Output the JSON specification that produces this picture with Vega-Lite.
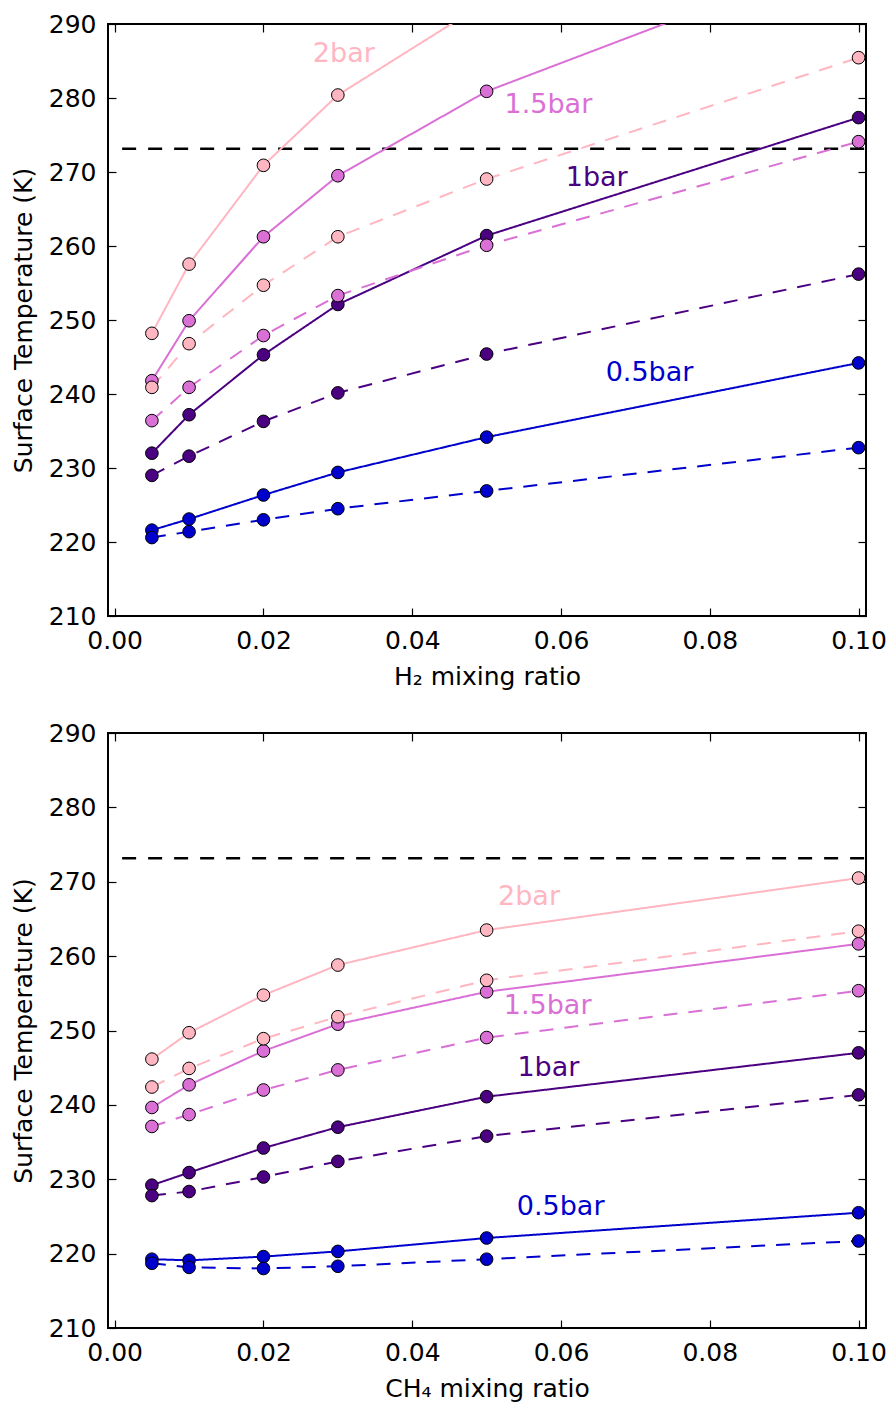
{
  "$schema": "https://vega.github.io/schema/vega-lite/v6.json",
  "padding": {"left": 10, "top": 11, "right": 5, "bottom": 5},
  "background": "white",
  "datasets": {
    "h2": [
      {"x": 0.005, "T": 221.6, "p": "0.5bar", "s": "solid"},
      {"x": 0.01, "T": 223.1, "p": "0.5bar", "s": "solid"},
      {"x": 0.02, "T": 226.35, "p": "0.5bar", "s": "solid"},
      {"x": 0.03, "T": 229.4, "p": "0.5bar", "s": "solid"},
      {"x": 0.05, "T": 234.17, "p": "0.5bar", "s": "solid"},
      {"x": 0.1, "T": 244.2, "p": "0.5bar", "s": "solid"},
      {"x": 0.005, "T": 220.6, "p": "0.5bar", "s": "dashed"},
      {"x": 0.01, "T": 221.4, "p": "0.5bar", "s": "dashed"},
      {"x": 0.02, "T": 223.0, "p": "0.5bar", "s": "dashed"},
      {"x": 0.03, "T": 224.5, "p": "0.5bar", "s": "dashed"},
      {"x": 0.05, "T": 226.9, "p": "0.5bar", "s": "dashed"},
      {"x": 0.1, "T": 232.75, "p": "0.5bar", "s": "dashed"},
      {"x": 0.005, "T": 232.0, "p": "1bar", "s": "solid"},
      {"x": 0.01, "T": 237.2, "p": "1bar", "s": "solid"},
      {"x": 0.02, "T": 245.3, "p": "1bar", "s": "solid"},
      {"x": 0.03, "T": 252.1, "p": "1bar", "s": "solid"},
      {"x": 0.05, "T": 261.4, "p": "1bar", "s": "solid"},
      {"x": 0.1, "T": 277.35, "p": "1bar", "s": "solid"},
      {"x": 0.005, "T": 229.0, "p": "1bar", "s": "dashed"},
      {"x": 0.01, "T": 231.6, "p": "1bar", "s": "dashed"},
      {"x": 0.02, "T": 236.3, "p": "1bar", "s": "dashed"},
      {"x": 0.03, "T": 240.15, "p": "1bar", "s": "dashed"},
      {"x": 0.05, "T": 245.4, "p": "1bar", "s": "dashed"},
      {"x": 0.1, "T": 256.2, "p": "1bar", "s": "dashed"},
      {"x": 0.005, "T": 241.8, "p": "1.5bar", "s": "solid"},
      {"x": 0.01, "T": 249.9, "p": "1.5bar", "s": "solid"},
      {"x": 0.02, "T": 261.25, "p": "1.5bar", "s": "solid"},
      {"x": 0.03, "T": 269.5, "p": "1.5bar", "s": "solid"},
      {"x": 0.05, "T": 280.9, "p": "1.5bar", "s": "solid"},
      {"x": 0.1, "T": 300.0, "p": "1.5bar", "s": "solid"},
      {"x": 0.005, "T": 236.4, "p": "1.5bar", "s": "dashed"},
      {"x": 0.01, "T": 240.9, "p": "1.5bar", "s": "dashed"},
      {"x": 0.02, "T": 247.9, "p": "1.5bar", "s": "dashed"},
      {"x": 0.03, "T": 253.3, "p": "1.5bar", "s": "dashed"},
      {"x": 0.05, "T": 260.1, "p": "1.5bar", "s": "dashed"},
      {"x": 0.1, "T": 274.1, "p": "1.5bar", "s": "dashed"},
      {"x": 0.005, "T": 248.2, "p": "2bar", "s": "solid"},
      {"x": 0.01, "T": 257.55, "p": "2bar", "s": "solid"},
      {"x": 0.02, "T": 270.9, "p": "2bar", "s": "solid"},
      {"x": 0.03, "T": 280.4, "p": "2bar", "s": "solid"},
      {"x": 0.05, "T": 293.0, "p": "2bar", "s": "solid"},
      {"x": 0.1, "T": 310.0, "p": "2bar", "s": "solid"},
      {"x": 0.005, "T": 240.9, "p": "2bar", "s": "dashed"},
      {"x": 0.01, "T": 246.8, "p": "2bar", "s": "dashed"},
      {"x": 0.02, "T": 254.7, "p": "2bar", "s": "dashed"},
      {"x": 0.03, "T": 261.25, "p": "2bar", "s": "dashed"},
      {"x": 0.05, "T": 269.05, "p": "2bar", "s": "dashed"},
      {"x": 0.1, "T": 285.45, "p": "2bar", "s": "dashed"}
    ],
    "ch4": [
      {"x": 0.005, "T": 219.25, "p": "0.5bar", "s": "solid"},
      {"x": 0.01, "T": 219.1, "p": "0.5bar", "s": "solid"},
      {"x": 0.02, "T": 219.6, "p": "0.5bar", "s": "solid"},
      {"x": 0.03, "T": 220.3, "p": "0.5bar", "s": "solid"},
      {"x": 0.05, "T": 222.1, "p": "0.5bar", "s": "solid"},
      {"x": 0.1, "T": 225.5, "p": "0.5bar", "s": "solid"},
      {"x": 0.005, "T": 218.7, "p": "0.5bar", "s": "dashed"},
      {"x": 0.01, "T": 218.15, "p": "0.5bar", "s": "dashed"},
      {"x": 0.02, "T": 218.0, "p": "0.5bar", "s": "dashed"},
      {"x": 0.03, "T": 218.3, "p": "0.5bar", "s": "dashed"},
      {"x": 0.05, "T": 219.25, "p": "0.5bar", "s": "dashed"},
      {"x": 0.1, "T": 221.7, "p": "0.5bar", "s": "dashed"},
      {"x": 0.005, "T": 229.2, "p": "1bar", "s": "solid"},
      {"x": 0.01, "T": 230.9, "p": "1bar", "s": "solid"},
      {"x": 0.02, "T": 234.2, "p": "1bar", "s": "solid"},
      {"x": 0.03, "T": 237.0, "p": "1bar", "s": "solid"},
      {"x": 0.05, "T": 241.1, "p": "1bar", "s": "solid"},
      {"x": 0.1, "T": 247.0, "p": "1bar", "s": "solid"},
      {"x": 0.005, "T": 227.8, "p": "1bar", "s": "dashed"},
      {"x": 0.01, "T": 228.35, "p": "1bar", "s": "dashed"},
      {"x": 0.02, "T": 230.3, "p": "1bar", "s": "dashed"},
      {"x": 0.03, "T": 232.4, "p": "1bar", "s": "dashed"},
      {"x": 0.05, "T": 235.8, "p": "1bar", "s": "dashed"},
      {"x": 0.1, "T": 241.35, "p": "1bar", "s": "dashed"},
      {"x": 0.005, "T": 239.65, "p": "1.5bar", "s": "solid"},
      {"x": 0.01, "T": 242.7, "p": "1.5bar", "s": "solid"},
      {"x": 0.02, "T": 247.25, "p": "1.5bar", "s": "solid"},
      {"x": 0.03, "T": 250.85, "p": "1.5bar", "s": "solid"},
      {"x": 0.05, "T": 255.2, "p": "1.5bar", "s": "solid"},
      {"x": 0.1, "T": 261.65, "p": "1.5bar", "s": "solid"},
      {"x": 0.005, "T": 237.1, "p": "1.5bar", "s": "dashed"},
      {"x": 0.01, "T": 238.7, "p": "1.5bar", "s": "dashed"},
      {"x": 0.02, "T": 242.0, "p": "1.5bar", "s": "dashed"},
      {"x": 0.03, "T": 244.7, "p": "1.5bar", "s": "dashed"},
      {"x": 0.05, "T": 249.05, "p": "1.5bar", "s": "dashed"},
      {"x": 0.1, "T": 255.35, "p": "1.5bar", "s": "dashed"},
      {"x": 0.005, "T": 246.15, "p": "2bar", "s": "solid"},
      {"x": 0.01, "T": 249.7, "p": "2bar", "s": "solid"},
      {"x": 0.02, "T": 254.75, "p": "2bar", "s": "solid"},
      {"x": 0.03, "T": 258.8, "p": "2bar", "s": "solid"},
      {"x": 0.05, "T": 263.5, "p": "2bar", "s": "solid"},
      {"x": 0.1, "T": 270.5, "p": "2bar", "s": "solid"},
      {"x": 0.005, "T": 242.4, "p": "2bar", "s": "dashed"},
      {"x": 0.01, "T": 244.9, "p": "2bar", "s": "dashed"},
      {"x": 0.02, "T": 248.9, "p": "2bar", "s": "dashed"},
      {"x": 0.03, "T": 251.85, "p": "2bar", "s": "dashed"},
      {"x": 0.05, "T": 256.75, "p": "2bar", "s": "dashed"},
      {"x": 0.1, "T": 263.35, "p": "2bar", "s": "dashed"}
    ],
    "lab_h2": [
      {"x": 0.0308, "T": 286.0, "p": "2bar"},
      {"x": 0.0583, "T": 279.0, "p": "1.5bar"},
      {"x": 0.0648, "T": 269.2, "p": "1bar"},
      {"x": 0.0719, "T": 242.8, "p": "0.5bar"}
    ],
    "lab_ch4": [
      {"x": 0.0557, "T": 267.9, "p": "2bar"},
      {"x": 0.0582, "T": 253.3, "p": "1.5bar"},
      {"x": 0.0583, "T": 245.0, "p": "1bar"},
      {"x": 0.05995, "T": 226.3, "p": "0.5bar"}
    ],
    "freeze": [{"T": 273.15, "x0": 0.001, "x1": 0.101}]
  },
  "spacing": 117,
  "bounds": "flush",
  "vconcat": [
    {
      "width": 758,
      "height": 592,
      "resolve": {"axis": {"x": "independent", "y": "independent"}},
      "layer": [
        {
          "layer": [
            {
              "data": {"name": "freeze"},
              "mark": {"type": "rule", "color": "black", "strokeWidth": 2.5, "strokeDash": [14, 12]},
              "encoding": {
                "y": {"field": "T", "type": "quantitative", "scale": {"domain": [210, 290], "nice": false, "zero": false}},
                "x": {"field": "x0", "type": "quantitative", "scale": {"domain": [-0.0009, 0.101], "nice": false, "zero": false}},
                "x2": {"field": "x1"}
              }
            },
            {
              "data": {"name": "h2"},
              "mark": {"type": "line", "strokeWidth": 2, "clip": true},
              "encoding": {
                "x": {"field": "x", "type": "quantitative", "scale": {"domain": [-0.0009, 0.101], "nice": false, "zero": false},
                  "axis": {"values": [0, 0.02, 0.04, 0.06, 0.08, 0.1], "format": ".2f", "title": "H₂ mixing ratio", "labelPadding": 20, "titlePadding": 11}},
                "y": {"field": "T", "type": "quantitative", "scale": {"domain": [210, 290], "nice": false, "zero": false},
                  "axis": {"values": [210, 220, 230, 240, 250, 260, 270, 280, 290], "title": "Surface Temperature (K)", "labelPadding": 20, "titlePadding": 12}},
                "color": {"field": "p", "type": "nominal", "scale": {"domain": ["2bar", "1.5bar", "1bar", "0.5bar"], "range": ["#FFB6C1", "#DA70D6", "#4B0082", "#0000CD"]}, "legend": null},
                "strokeDash": {"field": "s", "type": "nominal", "scale": {"domain": ["solid", "dashed"], "range": [[1, 0], [14, 11]]}, "legend": null}
              }
            },
            {
              "data": {"name": "h2"},
              "mark": {"type": "point", "filled": true, "size": 160, "stroke": "black", "strokeWidth": 1, "opacity": 1, "clip": true},
              "encoding": {
                "x": {"field": "x", "type": "quantitative", "scale": {"domain": [-0.0009, 0.101], "nice": false, "zero": false}},
                "y": {"field": "T", "type": "quantitative", "scale": {"domain": [210, 290], "nice": false, "zero": false}},
                "fill": {"field": "p", "type": "nominal", "scale": {"domain": ["2bar", "1.5bar", "1bar", "0.5bar"], "range": ["#FFB6C1", "#DA70D6", "#4B0082", "#0000CD"]}, "legend": null}
              }
            },
            {
              "data": {"name": "lab_h2"},
              "mark": {"type": "text", "fontSize": 27, "baseline": "middle", "align": "center"},
              "encoding": {
                "x": {"field": "x", "type": "quantitative", "scale": {"domain": [-0.0009, 0.101], "nice": false, "zero": false}},
                "y": {"field": "T", "type": "quantitative", "scale": {"domain": [210, 290], "nice": false, "zero": false}},
                "text": {"field": "p"},
                "color": {"field": "p", "type": "nominal", "scale": {"domain": ["2bar", "1.5bar", "1bar", "0.5bar"], "range": ["#FFB6C1", "#DA70D6", "#4B0082", "#0000CD"]}, "legend": null}
              }
            }
          ]
        },
        {
          "data": {"name": "h2"},
          "mark": {"type": "point", "opacity": 0, "clip": true},
          "encoding": {
            "x": {"field": "x", "type": "quantitative", "scale": {"domain": [-0.0009, 0.101], "nice": false, "zero": false},
              "axis": {"orient": "top", "values": [0, 0.02, 0.04, 0.06, 0.08, 0.1], "labels": false, "title": null}},
            "y": {"field": "T", "type": "quantitative", "scale": {"domain": [210, 290], "nice": false, "zero": false},
              "axis": {"orient": "right", "values": [210, 220, 230, 240, 250, 260, 270, 280, 290], "labels": false, "title": null}}
          }
        }
      ]
    },
    {
      "width": 758,
      "height": 595,
      "resolve": {"axis": {"x": "independent", "y": "independent"}},
      "layer": [
        {
          "layer": [
            {
              "data": {"name": "freeze"},
              "mark": {"type": "rule", "color": "black", "strokeWidth": 2.5, "strokeDash": [14, 12]},
              "encoding": {
                "y": {"field": "T", "type": "quantitative", "scale": {"domain": [210, 290], "nice": false, "zero": false}},
                "x": {"field": "x0", "type": "quantitative", "scale": {"domain": [-0.0009, 0.101], "nice": false, "zero": false}},
                "x2": {"field": "x1"}
              }
            },
            {
              "data": {"name": "ch4"},
              "mark": {"type": "line", "strokeWidth": 2, "clip": true},
              "encoding": {
                "x": {"field": "x", "type": "quantitative", "scale": {"domain": [-0.0009, 0.101], "nice": false, "zero": false},
                  "axis": {"values": [0, 0.02, 0.04, 0.06, 0.08, 0.1], "format": ".2f", "title": "CH₄ mixing ratio", "labelPadding": 20, "titlePadding": 11}},
                "y": {"field": "T", "type": "quantitative", "scale": {"domain": [210, 290], "nice": false, "zero": false},
                  "axis": {"values": [210, 220, 230, 240, 250, 260, 270, 280, 290], "title": "Surface Temperature (K)", "labelPadding": 20, "titlePadding": 12}},
                "color": {"field": "p", "type": "nominal", "scale": {"domain": ["2bar", "1.5bar", "1bar", "0.5bar"], "range": ["#FFB6C1", "#DA70D6", "#4B0082", "#0000CD"]}, "legend": null},
                "strokeDash": {"field": "s", "type": "nominal", "scale": {"domain": ["solid", "dashed"], "range": [[1, 0], [14, 11]]}, "legend": null}
              }
            },
            {
              "data": {"name": "ch4"},
              "mark": {"type": "point", "filled": true, "size": 160, "stroke": "black", "strokeWidth": 1, "opacity": 1, "clip": true},
              "encoding": {
                "x": {"field": "x", "type": "quantitative", "scale": {"domain": [-0.0009, 0.101], "nice": false, "zero": false}},
                "y": {"field": "T", "type": "quantitative", "scale": {"domain": [210, 290], "nice": false, "zero": false}},
                "fill": {"field": "p", "type": "nominal", "scale": {"domain": ["2bar", "1.5bar", "1bar", "0.5bar"], "range": ["#FFB6C1", "#DA70D6", "#4B0082", "#0000CD"]}, "legend": null}
              }
            },
            {
              "data": {"name": "lab_ch4"},
              "mark": {"type": "text", "fontSize": 27, "baseline": "middle", "align": "center"},
              "encoding": {
                "x": {"field": "x", "type": "quantitative", "scale": {"domain": [-0.0009, 0.101], "nice": false, "zero": false}},
                "y": {"field": "T", "type": "quantitative", "scale": {"domain": [210, 290], "nice": false, "zero": false}},
                "text": {"field": "p"},
                "color": {"field": "p", "type": "nominal", "scale": {"domain": ["2bar", "1.5bar", "1bar", "0.5bar"], "range": ["#FFB6C1", "#DA70D6", "#4B0082", "#0000CD"]}, "legend": null}
              }
            }
          ]
        },
        {
          "data": {"name": "ch4"},
          "mark": {"type": "point", "opacity": 0, "clip": true},
          "encoding": {
            "x": {"field": "x", "type": "quantitative", "scale": {"domain": [-0.0009, 0.101], "nice": false, "zero": false},
              "axis": {"orient": "top", "values": [0, 0.02, 0.04, 0.06, 0.08, 0.1], "labels": false, "title": null}},
            "y": {"field": "T", "type": "quantitative", "scale": {"domain": [210, 290], "nice": false, "zero": false},
              "axis": {"orient": "right", "values": [210, 220, 230, 240, 250, 260, 270, 280, 290], "labels": false, "title": null}}
          }
        }
      ]
    }
  ],
  "config": {
    "font": "DejaVu Sans",
    "view": {"stroke": "black", "strokeWidth": 2},
    "axis": {
      "grid": false,
      "domain": false,
      "ticks": true,
      "tickColor": "black",
      "tickSize": -8,
      "tickWidth": 1.2,
      "labelFont": "DejaVu Sans",
      "labelFontSize": 25,
      "labelColor": "black",
      "labelFlush": false,
      "labelOverlap": false,
      "titleFont": "DejaVu Sans",
      "titleFontSize": 25,
      "titleFontWeight": "normal",
      "titleColor": "black"
    }
  }
}
